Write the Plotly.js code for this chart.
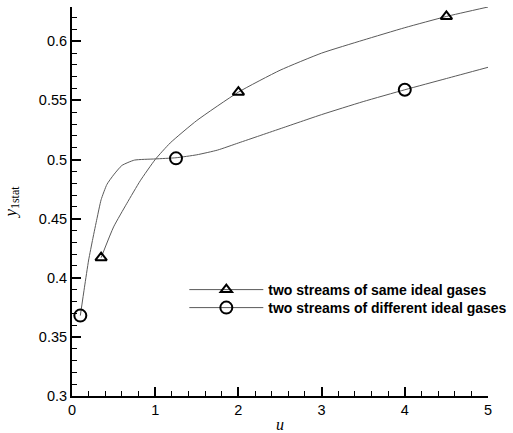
<!DOCTYPE html>
<html>
<head>
<meta charset="utf-8">
<script src="https://cdn.plot.ly/plotly-3.0.1.min.js"></script>
<style>html,body{margin:0;padding:0;background:#fff;}#chart{width:513px;height:433px;}</style>
</head>
<body>
<div id="chart"></div>
<script>
// Series 1: two streams of same ideal gases (curve)
var sameU = [0.35, 0.5, 0.66, 0.82, 1.0, 1.18, 1.5, 2.0, 2.5, 3.0, 3.5, 4.0, 4.5, 5.0];
var sameY = [0.417, 0.443, 0.463, 0.482, 0.500, 0.514, 0.533, 0.557, 0.5755, 0.590, 0.601, 0.6115, 0.621, 0.629];
// Series 1 marker locations
var sameMarkU = [0.35, 2.0, 4.5];
var sameMarkY = [0.417, 0.557, 0.621];

// Series 2: two streams of different ideal gases (curve)
var diffU = [0.1, 0.15, 0.2, 0.25, 0.3, 0.35, 0.42, 0.5, 0.6, 0.75, 1.0, 1.25, 1.5, 1.75, 2.0, 2.25, 2.5, 3.0, 3.5, 4.0, 4.5, 5.0];
var diffY = [0.368, 0.392, 0.415, 0.433, 0.450, 0.466, 0.479, 0.487, 0.495, 0.4995, 0.5005, 0.5015, 0.504, 0.508, 0.514, 0.520, 0.526, 0.538, 0.549, 0.559, 0.5685, 0.578];
// Series 2 marker locations
var diffMarkU = [0.1, 1.25, 4.0];
var diffMarkY = [0.368, 0.501, 0.559];

var seriesNames = ["two streams of same ideal gases", "two streams of different ideal gases"];

var lineStyle = {color: "#5a5a5a", width: 1, shape: "spline", smoothing: 0.5};
var mk = function(sym, size){ return {symbol: sym, size: size, color: "#000", line: {color: "#000", width: 2}}; };

var traces = [
  {x: sameU, y: sameY, mode: "lines", line: lineStyle, showlegend: false, hoverinfo: "skip"},
  {x: diffU, y: diffY, mode: "lines", line: lineStyle, showlegend: false, hoverinfo: "skip"},
  {x: sameMarkU, y: sameMarkY, mode: "markers", marker: mk("triangle-up-open", 10), showlegend: false},
  {x: diffMarkU, y: diffMarkY, mode: "markers", marker: mk("circle-open", 12), showlegend: false},
  {x: [null], y: [null], mode: "lines+markers", name: seriesNames[0], legend: "legend", line: {color: "#5a5a5a", width: 1}, marker: mk("triangle-up-open", 10)},
  {x: [null], y: [null], mode: "lines+markers", name: seriesNames[1], legend: "legend2", line: {color: "#5a5a5a", width: 1}, marker: mk("circle-open", 12)}
];

var axisFont = {family: "Liberation Sans, Arial, sans-serif", size: 14.5, color: "#000"};
var legFont = {family: "Liberation Sans, Arial, sans-serif", size: 14, color: "#000", weight: "bold"};
var legBase = function(yy){ return {x: 0.27, y: yy, xanchor: "left", yanchor: "middle", bgcolor: "rgba(0,0,0,0)", borderwidth: 0, itemwidth: 74, font: legFont}; };

var layout = {
  width: 513, height: 433,
  margin: {l: 72, r: 25, t: 7, b: 37, autoexpand: false},
  paper_bgcolor: "#fff", plot_bgcolor: "#fff",
  showlegend: true,
  legend: legBase(0.2725),
  legend2: legBase(0.2262),
  xaxis: {
    range: [0, 5], dtick: 1, tick0: 0,
    showgrid: false, zeroline: false,
    showline: true, linecolor: "#000", linewidth: 2,
    ticks: "inside", ticklen: 9, tickwidth: 2, tickcolor: "#000",
    minor: {dtick: 0.2, ticks: "inside", ticklen: 5, tickwidth: 1, tickcolor: "#000", showgrid: false},
    tickfont: axisFont,
    title: {text: "<i>u</i>", font: {family: "Liberation Serif, Times New Roman, serif", size: 16, color: "#000"}, standoff: 6}
  },
  yaxis: {
    range: [0.3, 0.629], dtick: 0.05, tick0: 0.3,
    showgrid: false, zeroline: false,
    showline: true, linecolor: "#000", linewidth: 2,
    ticks: "inside", ticklen: 9, tickwidth: 2, tickcolor: "#000",
    minor: {dtick: 0.01, ticks: "inside", ticklen: 5, tickwidth: 1, tickcolor: "#000", showgrid: false},
    tickfont: axisFont,
    title: {text: "<i>y</i><sub>1stat</sub>", font: {family: "Liberation Serif, Times New Roman, serif", size: 17, color: "#000"}, standoff: 18}
  }
};

Plotly.newPlot("chart", traces, layout, {displayModeBar: false, staticPlot: true});
</script>
</body>
</html>
